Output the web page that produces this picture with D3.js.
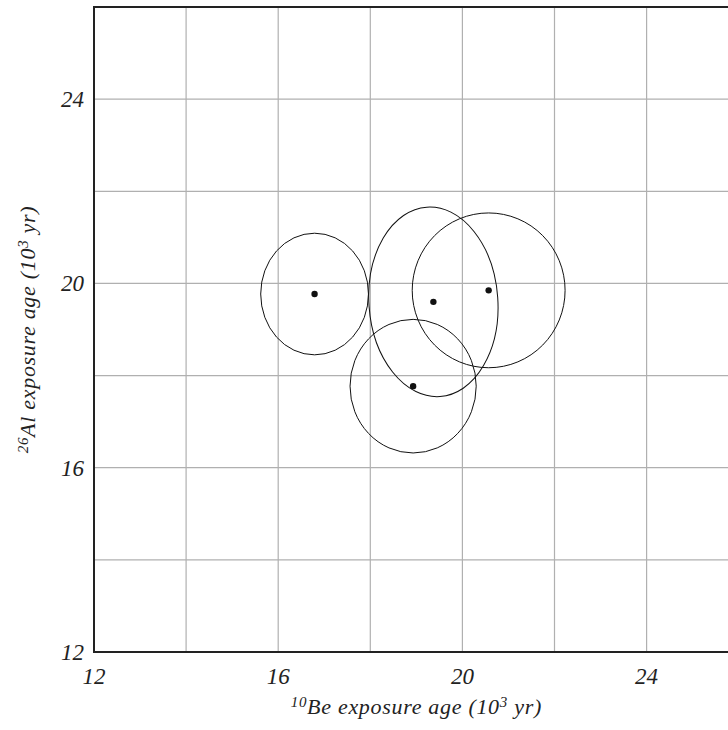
<!DOCTYPE html>
<html>
<head>
<meta charset="utf-8">
<script src="https://cdn.jsdelivr.net/npm/d3@7"></script>
<style>
  body { margin: 0; background: #fff; }
  svg { display: block; font-family: "Liberation Serif", serif; font-style: italic; }
  .grid line { stroke: #b0b0b0; stroke-width: 1.2; }
</style>
</head>
<body>
<svg id="chart" width="728" height="730"></svg>
<script>
// samples: 10Be age, 26Al age and their ellipse half-widths (10^3 yr)
const beAge = [16.79, 19.37, 20.57, 18.93];
const alAge = [19.77, 19.60, 19.85, 17.77];
const beErr = [1.17, 1.40, 1.66, 1.37];
const alErr = [1.32, 2.06, 1.68, 1.45];
const tilt = [0, -4, 0, 0];

const xTicks = [12, 16, 20, 24];
const yTicks = [12, 16, 20, 24];
const gridVals = [14, 16, 18, 20, 22, 24];

const svg = d3.select('#chart');
const margin = { left: 94, top: 7, bottom: 78 };
const height = 730;

const x = d3.scaleLinear().domain([12, 26]).range([margin.left, margin.left + 14 * 46.05]);
const y = d3.scaleLinear().domain([12, 26]).range([height - margin.bottom, margin.top]);

// grid
const grid = svg.append('g').attr('class', 'grid');
grid.selectAll('.gx').data(gridVals).enter().append('line')
  .attr('x1', d => x(d)).attr('x2', d => x(d))
  .attr('y1', y(12)).attr('y2', y(26));
grid.selectAll('.gy').data(gridVals).enter().append('line')
  .attr('y1', d => y(d)).attr('y2', d => y(d))
  .attr('x1', x(12)).attr('x2', x(26));

// frame
svg.append('rect')
  .attr('x', x(12)).attr('y', y(26))
  .attr('width', x(26) - x(12)).attr('height', y(12) - y(26))
  .attr('fill', 'none').attr('stroke', '#222').attr('stroke-width', 2);

// ellipses
const pts = beAge.map((d, i) => ({ bx: d, al: alAge[i], ex: beErr[i], ey: alErr[i], r: tilt[i] }));
svg.append('g').selectAll('ellipse').data(pts).enter().append('ellipse')
  .attr('transform', d => `translate(${x(d.bx)},${y(d.al)}) rotate(${d.r})`)
  .attr('rx', d => x(d.bx + d.ex) - x(d.bx))
  .attr('ry', d => y(d.al) - y(d.al + d.ey))
  .attr('fill', 'none').attr('stroke', '#111').attr('stroke-width', 1);

svg.append('g').selectAll('circle').data(pts).enter().append('circle')
  .attr('cx', d => x(d.bx)).attr('cy', d => y(d.al))
  .attr('r', 3.2).attr('fill', '#111');

// tick labels
svg.append('g').selectAll('text').data(xTicks).enter().append('text')
  .attr('x', d => x(d)).attr('y', 684)
  .attr('text-anchor', 'middle').attr('font-size', 23).attr('fill', '#222')
  .text(d => d);
svg.append('g').selectAll('text').data(yTicks).enter().append('text')
  .attr('x', 84).attr('y', d => y(d) + 8)
  .attr('text-anchor', 'end').attr('font-size', 23).attr('fill', '#222')
  .text(d => d);

// axis titles
const midX = (x(12) + x(26)) / 2;
const midY = (y(12) + y(26)) / 2;

const xt = svg.append('text').attr('x', midX).attr('y', 714)
  .attr('text-anchor', 'middle').attr('font-size', 22).attr('letter-spacing', 0.7).attr('fill', '#222');
xt.append('tspan').attr('font-size', 15).attr('dy', -7).text('10');
xt.append('tspan').attr('dy', 7).text('Be exposure age (10');
xt.append('tspan').attr('font-size', 15).attr('dy', -7).text('3');
xt.append('tspan').attr('dy', 7).text(' yr)');

const yt = svg.append('text')
  .attr('transform', `translate(35,${midY}) rotate(-90)`)
  .attr('text-anchor', 'middle').attr('font-size', 22).attr('letter-spacing', 0.7).attr('fill', '#222');
yt.append('tspan').attr('font-size', 15).attr('dy', -7).text('26');
yt.append('tspan').attr('dy', 7).text('Al exposure age (10');
yt.append('tspan').attr('font-size', 15).attr('dy', -7).text('3');
yt.append('tspan').attr('dy', 7).text(' yr)');
</script>
</body>
</html>
